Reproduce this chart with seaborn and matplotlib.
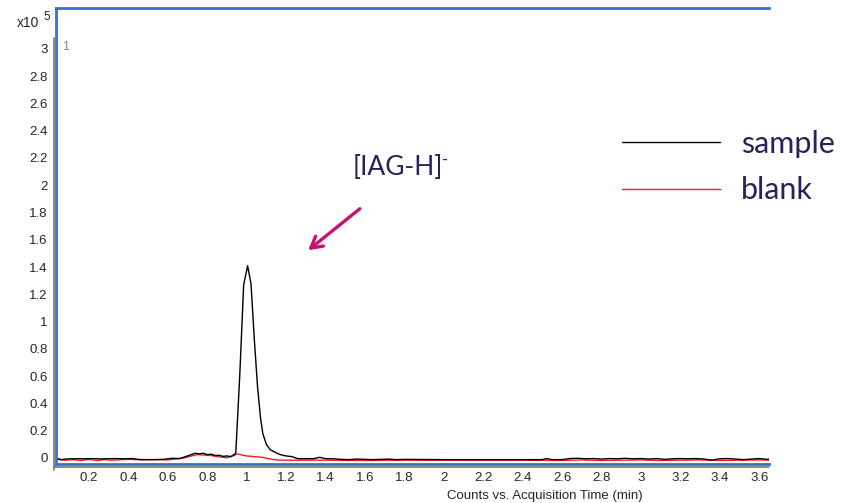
import matplotlib
matplotlib.use("Agg")
import matplotlib.pyplot as plt
import seaborn as sns
import pandas as pd

# Counts (x10^5) vs acquisition time (min)
sample_time = [0.04, 0.06, 0.08, 0.10, 0.14, 0.18, 0.22, 0.26, 0.30, 0.34, 0.38, 0.42,
               0.46, 0.50, 0.54, 0.58, 0.62, 0.66, 0.68, 0.71, 0.74, 0.76, 0.78, 0.80,
               0.82, 0.84, 0.86, 0.88, 0.90, 0.92, 0.945, 0.965, 0.985, 1.005, 1.022,
               1.04, 1.055, 1.07, 1.082, 1.10, 1.12, 1.14, 1.17, 1.20, 1.23, 1.26, 1.30,
               1.34, 1.37, 1.40, 1.44, 1.48, 1.52, 1.56, 1.60, 1.64, 1.68, 1.72, 1.76,
               1.80, 2.00, 2.20, 2.40, 2.50, 2.52, 2.55, 2.60, 2.64, 2.68, 2.72, 2.76,
               2.80, 2.84, 2.88, 2.92, 2.96, 3.00, 3.04, 3.08, 3.12, 3.16, 3.20, 3.24,
               3.28, 3.32, 3.36, 3.40, 3.44, 3.48, 3.52, 3.56, 3.60, 3.64, 3.66]
sample_counts = [-0.005, -0.012, -0.008, -0.006, -0.005, -0.006, -0.004, -0.007, -0.005,
                 -0.004, -0.006, -0.004, -0.012, -0.012, -0.012, -0.010, -0.002, -0.004,
                 0.005, 0.020, 0.035, 0.030, 0.035, 0.025, 0.028, 0.018, 0.020, 0.012,
                 0.015, 0.010, 0.035, 0.60, 1.27, 1.41, 1.28, 0.85, 0.53, 0.30, 0.18,
                 0.10, 0.06, 0.045, 0.025, 0.015, 0.010, -0.005, -0.005, -0.005, 0.005,
                 -0.005, -0.006, -0.010, -0.012, -0.008, -0.010, -0.012, -0.010, -0.008,
                 -0.012, -0.010, -0.012, -0.012, -0.012, -0.012, -0.004, -0.012, -0.012,
                 -0.004, -0.002, -0.006, -0.004, -0.008, -0.004, -0.006, -0.002, -0.006,
                 -0.004, -0.008, -0.004, -0.010, -0.006, -0.004, -0.006, -0.004, -0.008,
                 -0.016, -0.006, -0.004, -0.008, -0.012, -0.008, -0.004, -0.010, -0.006]

blank_time = [0.04, 0.08, 0.12, 0.16, 0.20, 0.24, 0.28, 0.32, 0.36, 0.40, 0.44, 0.50,
              0.56, 0.60, 0.64, 0.68, 0.72, 0.75, 0.78, 0.82, 0.86, 0.90, 0.93, 0.955,
              0.975, 1.00, 1.04, 1.08, 1.12, 1.16, 1.20, 1.40, 1.60, 1.80, 2.00, 2.40,
              2.60, 2.70, 2.80, 2.90, 3.00, 3.10, 3.20, 3.30, 3.40, 3.50, 3.60, 3.66]
blank_counts = [-0.010, -0.016, -0.012, -0.018, -0.010, -0.018, -0.012, -0.016, -0.012,
                -0.010, -0.012, -0.012, -0.012, -0.014, -0.008, 0.000, 0.015, 0.025,
                0.022, 0.018, 0.008, 0.002, 0.015, 0.030, 0.022, 0.015, 0.010, 0.005,
                -0.008, -0.015, -0.016, -0.016, -0.018, -0.016, -0.016, -0.016, -0.018,
                -0.014, -0.018, -0.016, -0.014, -0.018, -0.016, -0.014, -0.018, -0.016,
                -0.014, -0.016]

x_ticks = [0.2, 0.4, 0.6, 0.8, 1.0, 1.2, 1.4, 1.6, 1.8, 2.0, 2.2, 2.4, 2.6, 2.8, 3.0,
           3.2, 3.4, 3.6]
x_labels = ["0.2", "0.4", "0.6", "0.8", "1", "1.2", "1.4", "1.6", "1.8", "2", "2.2",
            "2.4", "2.6", "2.8", "3", "3.2", "3.4", "3.6"]
y_ticks = [0, 0.2, 0.4, 0.6, 0.8, 1.0, 1.2, 1.4, 1.6, 1.8, 2.0, 2.2, 2.4, 2.6, 2.8, 3.0]
y_labels = ["0", "0.2", "0.4", "0.6", "0.8", "1", "1.2", "1.4", "1.6", "1.8", "2",
            "2.2", "2.4", "2.6", "2.8", "3"]

sns.set_style("white")
plt.rcParams["font.family"] = ["Liberation Sans Narrow", "Liberation Sans", "DejaVu Sans"]

BLUE = "#3b6fd0"
PURPLE = "#2b1f5c"
MAGENTA = "#c8126e"

fig = plt.figure(figsize=(8.48, 5.03), dpi=100)
ax = fig.add_axes([56 / 848, 39 / 503, 713 / 848, 456 / 503])

df_blank = pd.DataFrame({"t": blank_time, "c": blank_counts})
df_sample = pd.DataFrame({"t": sample_time, "c": sample_counts})
sns.lineplot(data=df_blank, x="t", y="c", ax=ax, color="#ff1a1a", lw=1.0,
             estimator=None, sort=False, label="blank")
sns.lineplot(data=df_sample, x="t", y="c", ax=ax, color="black", lw=1.0,
             estimator=None, sort=False, label="sample")

ax.set_xlim(0.033, 3.65)
ax.set_ylim(-0.044, 3.30)
ax.set_xticks(x_ticks)
ax.set_xticklabels(x_labels)
ax.set_yticks(y_ticks)
ax.set_yticklabels(y_labels)
ax.tick_params(axis="both", direction="out", length=4, width=1, color="#666666",
               labelsize=9.5, pad=2)
ax.set_ylabel("")
ax.set_xlabel("Counts vs. Acquisition Time (min)", fontsize=9.5)
ax.xaxis.set_label_coords(0.686, -0.056)

for side in ["top", "left", "bottom"]:
    ax.spines[side].set_color(BLUE)
    ax.spines[side].set_linewidth(2)
ax.spines["right"].set_visible(False)

# thin grey axis lines drawn next to the blue frame, as in the instrument export
ax.plot([-0.003, -0.003], [-0.013, 0.935], transform=ax.transAxes, color="#777777",
        lw=1.2, clip_on=False)
ax.plot([-0.003, 1.0], [-0.007, -0.007], transform=ax.transAxes, color="#777777",
        lw=1.2, clip_on=False)

# legend
handles, labels = ax.get_legend_handles_labels()
order = [1, 0]
leg = ax.legend([handles[i] for i in order], [labels[i] for i in order],
                loc="upper left", bbox_to_anchor=(622 / 848, 1 - 130 / 503),
                bbox_transform=fig.transFigure, frameon=False,
                prop={"family": "Lato", "size": 22}, labelcolor=PURPLE,
                handlelength=3.2, handletextpad=0.7, labelspacing=0.6, borderpad=0,
                borderaxespad=0)

# annotation
label = fig.text(353 / 848, 1 - 175 / 503, "[IAG-H]", fontsize=19, family="Lato",
                 color=PURPLE, va="baseline", ha="left")
ax.annotate("-", xy=(1, 1), xycoords=label, xytext=(-1, 2),
            textcoords="offset points", fontsize=12, family="Lato", color=PURPLE,
            ha="left", va="top")
ax.annotate("", xy=(306 / 848, 1 - 252 / 503), xytext=(362 / 848, 1 - 207 / 503),
            xycoords="figure fraction", textcoords="figure fraction",
            arrowprops=dict(arrowstyle="->,head_length=0.8,head_width=0.45",
                            color=MAGENTA, lw=2.4))

fig.text(17 / 848, 1 - 27 / 503, "x10", fontsize=10, family="Liberation Sans",
         va="baseline", ha="left")
fig.text(43 / 848, 1 - 20 / 503, "5", fontsize=8.5, family="Liberation Sans",
         va="baseline", ha="left")
fig.text(62 / 848, 1 - 50 / 503, "1", fontsize=9, color="#888888", va="baseline")

fig.savefig("out.png", dpi=100)
